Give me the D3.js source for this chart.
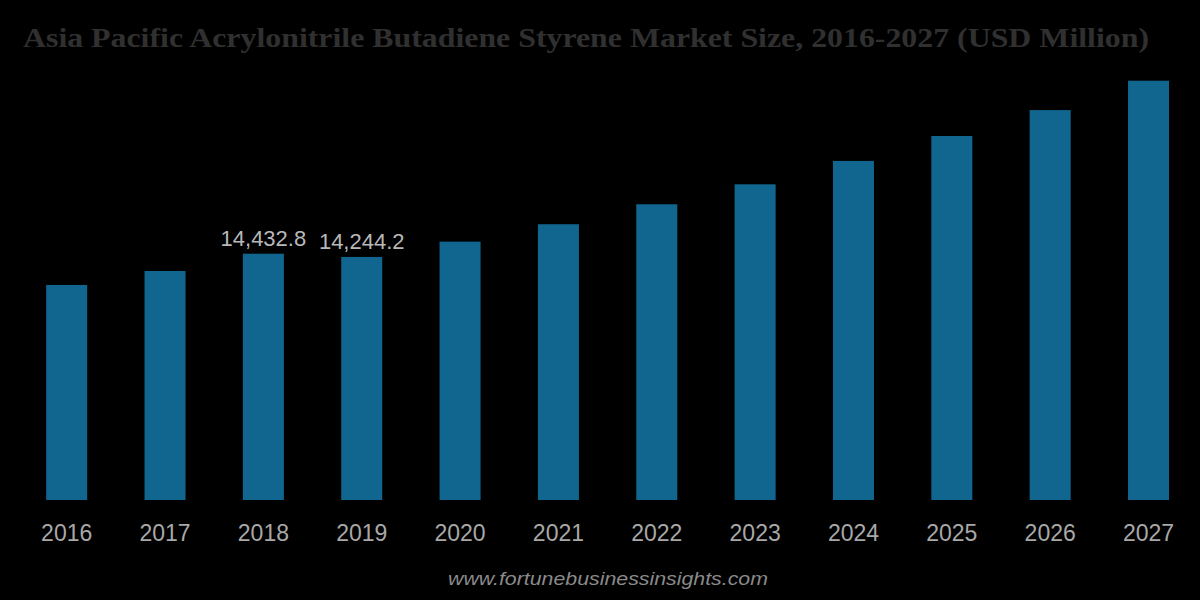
<!DOCTYPE html>
<html>
<head>
<meta charset="utf-8">
<script src="https://cdn.jsdelivr.net/npm/d3@7"></script>
<style>
  html, body { margin: 0; padding: 0; background: #000; }
  svg { display: block; }
</style>
</head>
<body>
<script>
const years = ["2016","2017","2018","2019","2020","2021","2022","2023","2024","2025","2026","2027"];
const values = [12600, 13420, 14432.8, 14244.2, 15140, 16160, 17330, 18500, 19870, 21330, 22850, 24570];
const labelledYears = ["2018", "2019"];
const valueLabels = ["14,432.8", "14,244.2"];
const title = "Asia Pacific Acrylonitrile Butadiene Styrene Market Size, 2016-2027 (USD Million)";
const source = "www.fortunebusinessinsights.com";

const W = 1200, H = 600;
const svg = d3.select("body").append("svg").attr("width", W).attr("height", H);
svg.append("rect").attr("width", W).attr("height", H).attr("fill", "#000");

const x = d3.scaleBand().domain(years).range([17.5, 1197.7]).paddingInner(0.583).paddingOuter(0.2915);
const y = d3.scaleLinear().domain([0, 25000]).range([500, 500 - 25000 / 58.6]);

svg.append("g").selectAll("rect").data(years).join("rect")
  .attr("x", d => x(d))
  .attr("width", x.bandwidth())
  .attr("y", (d, i) => y(values[i]))
  .attr("height", (d, i) => y(0) - y(values[i]))
  .attr("fill", "#10668e");

svg.append("g").selectAll("text").data(labelledYears).join("text")
  .attr("x", d => x(d) + x.bandwidth() / 2)
  .attr("y", d => y(values[years.indexOf(d)]) - 8)
  .attr("text-anchor", "middle")
  .attr("font-family", "Liberation Sans, Arial, sans-serif")
  .attr("font-size", 22)
  .attr("fill", "#b8b8b8")
  .text((d, i) => valueLabels[i]);

const xAxis = svg.append("g").attr("transform", "translate(0,500)")
  .call(d3.axisBottom(x).tickSize(0).tickPadding(41));
xAxis.select(".domain").remove();
xAxis.selectAll("text")
  .attr("font-family", "Liberation Sans, Arial, sans-serif")
  .attr("font-size", 23)
  .attr("fill", "#a8a8a8")
  .attr("dy", null)
  .attr("y", 41);

svg.append("text")
  .attr("x", 586).attr("y", 47)
  .attr("text-anchor", "middle")
  .attr("font-family", "Liberation Serif, Times New Roman, serif")
  .attr("font-weight", "bold")
  .attr("font-size", 28)
  .attr("fill", "#303030")
  .attr("textLength", 1126)
  .attr("lengthAdjust", "spacingAndGlyphs")
  .text(title);

svg.append("text")
  .attr("x", 608).attr("y", 585)
  .attr("text-anchor", "middle")
  .attr("font-family", "Liberation Sans, Arial, sans-serif")
  .attr("font-style", "italic")
  .attr("font-size", 19)
  .attr("fill", "#8a8a8a")
  .attr("textLength", 320)
  .attr("lengthAdjust", "spacingAndGlyphs")
  .text(source);
</script>
</body>
</html>
